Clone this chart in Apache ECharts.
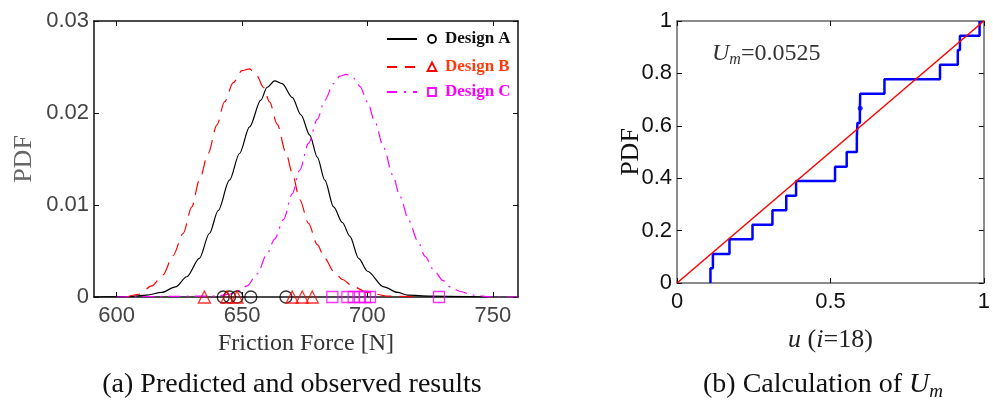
<!DOCTYPE html>
<html>
<head>
<meta charset="utf-8">
<title>Friction force PDF / U_m</title>
<script src="https://cdn.jsdelivr.net/npm/echarts@6.0.0/dist/echarts.min.js"></script>
<style>
  html, body { margin: 0; padding: 0; background: #fff; }
  #chart { width: 993px; height: 400px; }
</style>
</head>
<body>
<div id="chart"></div>
<script>
// (a) predicted PDF curves
const forceA = [591, 605, 612, 618, 623.5, 628, 633, 637, 640.5, 645, 649, 653, 657.5, 660, 663, 666, 670, 673.5, 677, 680, 683, 686.5, 690, 693, 696.5, 700, 706.5, 712, 716, 725, 748]
const pdfA = [0, 0.00005, 0.0002, 0.0005, 0.0011, 0.0022, 0.0042, 0.0069, 0.0094, 0.0127, 0.0156, 0.0185, 0.0214, 0.0228, 0.0235, 0.0232, 0.0217, 0.0198, 0.0176, 0.0152, 0.0127, 0.0098, 0.0081, 0.0066, 0.0042, 0.0028, 0.0011, 0.0005, 0.0002, 0.0001, 0]

const forceB = [604, 609, 614, 618.5, 622.5, 626.5, 630, 633, 636.5, 640, 643, 646.5, 650, 653, 656, 658.5, 661, 664, 667.5, 670, 673, 676.5, 680, 683, 686.5, 690, 694.5, 700, 708, 720]
const pdfB = [0, 0.0003, 0.0012, 0.0024, 0.0045, 0.0069, 0.0098, 0.0127, 0.0156, 0.0187, 0.0212, 0.0233, 0.0246, 0.0248, 0.0240, 0.0228, 0.0212, 0.0188, 0.0157, 0.0135, 0.0106, 0.0080, 0.0057, 0.0042, 0.0028, 0.0019, 0.0011, 0.0005, 0.0001, 0]

const forceC = [600, 640, 645, 648.5, 652, 656, 660, 663, 666.5, 670, 673, 676.5, 680, 683, 686.5, 689, 691.5, 694.5, 697, 700, 703, 706.5, 710, 713, 716.5, 720, 723, 726.5, 730, 733, 737, 742, 750, 760]
const pdfC = [0, 0.0001, 0.0003, 0.0007, 0.0012, 0.0025, 0.0047, 0.0063, 0.0084, 0.0112, 0.0138, 0.0167, 0.0193, 0.0214, 0.0232, 0.0240, 0.0242, 0.0238, 0.0229, 0.0212, 0.0190, 0.0162, 0.0133, 0.0109, 0.0083, 0.0061, 0.0044, 0.0029, 0.0018, 0.0011, 0.0006, 0.0002, 0, 0]

// observed friction forces (markers on the zero line)
const obsA = [642.5, 645, 648, 653.5, 667.5]
const obsB = [635, 644, 648, 670, 674, 678]
const obsC = [686, 692, 694.5, 697, 699, 701, 728.5]

// (b) u values (i = 18) and the staircase levels
const uObs = [0.109, 0.117, 0.171, 0.246, 0.311, 0.356, 0.388, 0.515, 0.553, 0.586, 0.588, 0.596, 0.597, 0.676, 0.857, 0.915, 0.922, 0.986]
const cdfLevels = [0.056, 0.111, 0.167, 0.222, 0.278, 0.333, 0.389, 0.444, 0.5, 0.556, 0.611, 0.667, 0.722, 0.778, 0.833, 0.889, 0.944, 1.0]
const dotU = [0.597]
const dotP = [0.667]
const refU = [0, 1]
const refP = [0, 1]

const xTicksA = [600, 650, 700, 750]

const serif = 'Liberation Serif'
const sans = 'Liberation Sans'

function pairs(xs, ys) {
  return xs.map((x, i) => [x, ys[i]])
}
function onZero(xs) {
  return xs.map(x => [x, 0])
}

const stepData = [[uObs[0], 0]].concat(pairs(uObs, cdfLevels))

const chart = echarts.init(document.getElementById('chart'), null, { renderer: 'canvas' })

// inside ticks + box frame, MATLAB style
function boxAxis(extra) {
  return Object.assign({
    type: 'value',
    splitLine: { show: false },
    axisLine: { show: true, onZero: false, lineStyle: { color: '#111', width: 1.5 } },
    axisTick: { show: true, inside: true, length: 5, lineStyle: { color: '#111', width: 1 } }
  }, extra)
}

const option = {
  backgroundColor: '#fff',
  animation: false,
  grid: [
    { left: 94, top: 21, width: 424, height: 276 },
    { left: 677, top: 21, width: 310, height: 262 }
  ],
  xAxis: [
    boxAxis({
      gridIndex: 0, min: 591, max: 760,
      axisTick: { show: true, inside: true, length: 5, customValues: xTicksA, lineStyle: { color: '#111' } },
      axisLabel: { customValues: xTicksA, fontFamily: sans, fontSize: 22, color: '#444', margin: 8 },
      name: 'Friction Force [N]', nameLocation: 'middle', nameGap: 32,
      nameTextStyle: { fontFamily: serif, fontSize: 24, color: '#333' }
    }),
    boxAxis({
      gridIndex: 0, min: 591, max: 760, position: 'top',
      axisTick: { show: true, inside: true, length: 5, customValues: xTicksA, lineStyle: { color: '#111' } },
      axisLabel: { show: false }
    }),
    boxAxis({
      gridIndex: 1, min: 0, max: 1, interval: 0.5,
      axisLine: { show: true, onZero: false, lineStyle: { color: '#666', width: 1.5 } },
      axisLabel: { fontFamily: sans, fontSize: 22, color: '#111', margin: 8 },
      name: '{i|u} ({i|i}=18)', nameLocation: 'middle', nameGap: 44,
      nameTextStyle: {
        fontFamily: serif, fontSize: 26, color: '#222',
        rich: { i: { fontFamily: serif, fontSize: 26, fontStyle: 'italic', color: '#222' } }
      }
    }),
    boxAxis({
      gridIndex: 1, min: 0, max: 1, interval: 0.5, position: 'top',
      axisLine: { show: true, onZero: false, lineStyle: { color: '#666', width: 1.5 } },
      axisLabel: { show: false }
    })
  ],
  yAxis: [
    boxAxis({
      gridIndex: 0, min: 0, max: 0.03, interval: 0.01,
      axisLabel: {
        fontFamily: sans, fontSize: 22, color: '#444', margin: 5,
        formatter: v => (v === 0 ? '0' : v.toFixed(2))
      },
      name: 'PDF', nameLocation: 'middle', nameGap: 57, nameRotate: 90,
      nameTextStyle: { fontFamily: serif, fontSize: 26, color: '#666' }
    }),
    boxAxis({
      gridIndex: 0, min: 0, max: 0.03, interval: 0.01, position: 'right',
      axisLabel: { show: false }
    }),
    boxAxis({
      gridIndex: 1, min: 0, max: 1, interval: 0.2,
      axisLine: { show: true, onZero: false, lineStyle: { color: '#666', width: 1.5 } },
      axisLabel: {
        fontFamily: sans, fontSize: 22, color: '#111', margin: 5,
        formatter: v => (v === 0 || v === 1 ? String(v) : v.toFixed(1))
      },
      name: 'PDF', nameLocation: 'middle', nameGap: 33, nameRotate: 90, nameMoveOverlap: false,
      nameTextStyle: { fontFamily: serif, fontSize: 26, color: '#111' }
    }),
    boxAxis({
      gridIndex: 1, min: 0, max: 1, interval: 0.2, position: 'right',
      axisLine: { show: true, onZero: false, lineStyle: { color: '#666', width: 1.5 } },
      axisLabel: { show: false }
    })
  ],
  series: [
    {
      name: 'Design A', type: 'line', xAxisIndex: 0, yAxisIndex: 0,
      data: pairs(forceA, pdfA), showSymbol: false, smooth: 0.3, smoothMonotone: 'x',
      lineStyle: { color: '#000', width: 1.2 }
    },
    {
      name: 'Design B', type: 'line', xAxisIndex: 0, yAxisIndex: 0,
      data: pairs(forceB, pdfB), showSymbol: false, smooth: 0.3, smoothMonotone: 'x',
      lineStyle: { color: '#ff0000', width: 1.2, type: [14, 8] }
    },
    {
      name: 'Design C', type: 'line', xAxisIndex: 0, yAxisIndex: 0,
      data: pairs(forceC, pdfC), showSymbol: false, smooth: 0.3, smoothMonotone: 'x',
      lineStyle: { color: '#ff00ff', width: 1.2, type: [12, 6, 2, 6] }
    },
    {
      name: 'obs A', type: 'scatter', xAxisIndex: 0, yAxisIndex: 0, z: 5,
      data: onZero(obsA), symbol: 'circle', symbolSize: 12,
      itemStyle: { color: 'rgba(0,0,0,0)', borderColor: '#000', borderWidth: 1.3 }
    },
    {
      name: 'obs B', type: 'scatter', xAxisIndex: 0, yAxisIndex: 0, z: 5,
      data: onZero(obsB), symbol: 'triangle', symbolSize: 12,
      itemStyle: { color: 'rgba(0,0,0,0)', borderColor: '#ff0000', borderWidth: 1.3 }
    },
    {
      name: 'obs C', type: 'scatter', xAxisIndex: 0, yAxisIndex: 0, z: 5,
      data: onZero(obsC), symbol: 'rect', symbolSize: 11,
      itemStyle: { color: 'rgba(0,0,0,0)', borderColor: '#ff00ff', borderWidth: 1.3 }
    },
    {
      name: 'u staircase', type: 'line', xAxisIndex: 2, yAxisIndex: 2,
      data: stepData, step: 'end', showSymbol: false,
      lineStyle: { color: '#0000ff', width: 2.5 }
    },
    {
      name: 'u dot', type: 'scatter', xAxisIndex: 2, yAxisIndex: 2,
      data: pairs(dotU, dotP), symbolSize: 5, itemStyle: { color: '#0000ff' }
    },
    {
      name: 'uniform', type: 'line', xAxisIndex: 2, yAxisIndex: 2, z: 4,
      data: pairs(refU, refP), showSymbol: false,
      lineStyle: { color: '#ff0000', width: 1.5 }
    }
  ],
  graphic: [
    // legend of panel (a)
    { type: 'line', shape: { x1: 387, y1: 39, x2: 417, y2: 39 }, style: { stroke: '#000', lineWidth: 2 } },
    { type: 'circle', shape: { cx: 432, cy: 39, r: 4 }, style: { fill: 'none', stroke: '#000', lineWidth: 1.8 } },
    { type: 'text', x: 445, y: 39, style: { text: 'Design A', fontFamily: serif, fontWeight: 'bold', fontSize: 17, fill: '#111', verticalAlign: 'middle' } },
    { type: 'line', shape: { x1: 387, y1: 67, x2: 417, y2: 67 }, style: { stroke: '#ff0000', lineWidth: 2, lineDash: [10, 8] } },
    { type: 'polygon', shape: { points: [[432, 62.5], [436.5, 71], [427.5, 71]] }, style: { fill: 'none', stroke: '#ff0000', lineWidth: 1.8 } },
    { type: 'text', x: 445, y: 67, style: { text: 'Design B', fontFamily: serif, fontWeight: 'bold', fontSize: 17, fill: '#ff3c10', verticalAlign: 'middle' } },
    { type: 'line', shape: { x1: 387, y1: 92, x2: 417, y2: 92 }, style: { stroke: '#ff00ff', lineWidth: 2, lineDash: [10, 7, 2, 7] } },
    { type: 'rect', shape: { x: 428, y: 88, width: 8, height: 8 }, style: { fill: 'none', stroke: '#ff00ff', lineWidth: 1.8 } },
    { type: 'text', x: 445, y: 92, style: { text: 'Design C', fontFamily: serif, fontWeight: 'bold', fontSize: 17, fill: '#ff00ff', verticalAlign: 'middle' } },
    // annotation of panel (b)
    {
      type: 'text', x: 712, y: 54,
      style: {
        text: '{i|U}{s|m}=0.0525', fontFamily: serif, fontSize: 24, fill: '#333', verticalAlign: 'middle',
        rich: {
          i: { fontFamily: serif, fontSize: 24, fontStyle: 'italic', fill: '#333', lineHeight: 28 },
          s: { fontFamily: serif, fontSize: 16, fontStyle: 'italic', fill: '#333', lineHeight: 12, verticalAlign: 'bottom' }
        }
      }
    },
    // captions
    {
      type: 'text', x: 292, y: 385,
      style: { text: '(a) Predicted and observed results', fontFamily: serif, fontSize: 28, fill: '#111', align: 'center', verticalAlign: 'middle' }
    },
    {
      type: 'text', x: 823, y: 385,
      style: {
        text: '(b) Calculation of {i|U}{s|m}', fontFamily: serif, fontSize: 28, fill: '#111', align: 'center', verticalAlign: 'middle',
        rich: {
          i: { fontFamily: serif, fontSize: 28, fontStyle: 'italic', fill: '#111', lineHeight: 32 },
          s: { fontFamily: serif, fontSize: 19, fontStyle: 'italic', fill: '#111', lineHeight: 14, verticalAlign: 'bottom' }
        }
      }
    }
  ]
}

chart.setOption(option)
</script>
</body>
</html>
